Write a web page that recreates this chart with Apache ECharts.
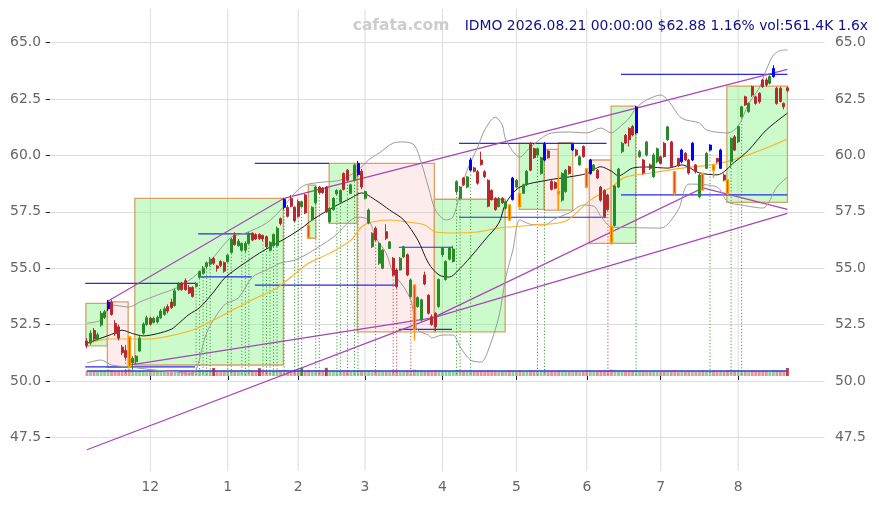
<!DOCTYPE html>
<html><head><meta charset="utf-8">
<script src="https://cdn.jsdelivr.net/npm/echarts@6/dist/echarts.min.js"></script>
<style>html,body{margin:0;padding:0;background:#fff}#c{width:879px;height:505px}</style>
</head><body><div id="c"></div>
<script>
const titleText = 'IDMO 2026.08.21 00:00:00 $62.88 1.16% vol:561.4K 1.6x';
const watermark = 'cafata.com';
const startDate = '2025-11-04', endDate = '2026-08-21';
const holidays = ['2025-11-27','2025-12-25','2026-01-01','2026-01-19','2026-02-16','2026-04-03','2026-05-25','2026-06-19','2026-07-03'];
const yTicks = [47.5, 50, 52.5, 55, 57.5, 60, 62.5, 65];

// [open, close, low, high]
const candles = [
[51.77,51.57,51.45,51.9],[51.68,52.12,51.6,52.25],[52.24,51.86,51.75,52.35],[51.86,52.05,51.8,52.15],[52.48,53.0,52.4,53.1],
[52.82,53.07,52.75,53.15],[53.2,53.5,53.1,53.6],[53.5,52.95,52.9,53.6],[52.55,52.1,52.0,52.7],[52.4,51.9,51.8,52.5],
[51.5,51.25,51.15,51.6],[51.35,51.05,50.95,51.6],[51.95,50.65,50.55,52.0],[50.8,51.0,50.5,51.1],[50.85,51.1,50.75,51.15],
[51.33,51.9,51.3,52.0],[52.12,52.53,52.05,52.6],[52.5,52.8,52.45,52.9],[52.78,52.52,52.45,52.85],[52.6,52.78,52.55,52.85],
[52.62,52.82,52.55,52.9],[52.8,53.1,52.75,53.2],[52.95,53.2,52.9,53.3],[53.3,53.1,53.0,53.4],[53.5,53.25,53.2,53.65],
[53.35,54.0,53.3,54.1],[54.05,54.3,54.0,54.4],[54.3,54.05,54.0,54.4],[54.45,54.05,54.0,54.55],[54.15,53.9,53.85,54.25],
[54.15,53.75,53.7,54.2],[54.2,54.33,54.15,54.4],[54.62,54.85,54.55,54.9],[54.78,55.0,54.75,55.1],[55.07,55.24,55.0,55.3],
[55.18,55.4,55.1,55.5],[55.44,55.22,55.15,55.5],[55.1,55.0,54.85,55.15],[55.3,55.12,55.05,55.35],[55.25,54.87,54.8,55.3],
[55.3,55.58,55.25,55.65],[55.7,56.28,55.65,56.35],[56.45,56.05,56.0,56.6],[56.0,56.2,55.95,56.3],[55.8,56.1,55.75,56.15],
[55.8,56.1,55.7,56.2],[56.1,56.55,56.05,56.6],[56.55,56.25,56.2,56.6],[56.5,56.3,56.25,56.55],[56.5,56.32,56.25,56.55],
[56.45,56.3,56.2,56.5],[56.4,55.95,55.9,56.45],[55.8,56.15,55.75,56.2],[56.0,56.5,55.95,56.55],[56.0,56.77,55.95,56.85],
[57.2,56.98,56.9,57.25],[57.7,58.05,57.6,58.1],[57.7,57.3,57.25,57.8],[58.1,57.75,57.7,58.25],[57.7,57.1,57.05,57.75],
[57.95,57.3,57.25,58.05],[57.73,57.95,57.7,58.0],[58.25,57.45,57.4,58.3],[56.9,56.35,56.3,56.95],[57.15,57.7,57.1,57.75],
[57.9,58.6,57.85,58.65],[58.6,58.35,58.3,58.65],[58.55,58.35,58.3,58.6],[58.6,57.5,57.45,58.65],[57.06,57.65,57.0,57.7],
[57.6,58.1,57.55,58.15],[58.3,58.45,58.25,58.5],[57.95,58.45,57.9,58.5],[59.2,58.5,58.45,59.25],[59.35,58.9,58.85,59.4],
[58.32,58.7,58.3,58.75],[58.9,59.58,58.85,59.65],[59.15,59.65,59.1,59.75],[59.3,58.6,58.5,59.4],[58.1,58.4,58.05,58.45],
[57.0,57.58,56.95,57.65],[55.95,56.55,55.9,56.6],[56.77,56.25,56.2,56.85],[55.22,56.1,55.15,56.15],[55.0,55.8,54.95,55.85],
[56.62,56.33,56.25,56.95],[55.88,56.17,55.85,56.2],[55.44,54.7,54.65,55.5],[54.92,54.18,54.1,55.0],[54.92,55.44,54.9,55.5],
[55.5,55.95,55.45,56.0],[55.6,54.7,54.65,55.65],[53.74,54.48,53.7,54.55],[54.25,52.3,51.8,54.3],[53.3,53.7,53.25,53.75],
[52.7,53.6,52.65,53.65],[54.7,54.3,54.25,54.85],[53.8,53.0,52.95,53.85],[52.85,52.5,52.45,52.95],[53.0,52.4,52.2,53.05],
[53.3,54.5,53.25,54.55],[55.6,55.9,55.5,55.95],[54.5,55.3,54.45,55.35],[55.4,55.9,55.35,55.95],[55.3,55.85,55.25,56.0],
[58.4,58.84,58.3,58.9],[58.1,58.6,58.05,58.65],[59.0,58.7,58.65,59.05],[58.6,59.05,58.55,59.1],[59.35,59.8,59.3,59.9],
[59.45,59.3,59.25,59.5],[59.28,58.77,58.7,59.35],[59.8,59.6,59.55,60.17],[59.28,59.06,59.0,59.35],[58.9,57.75,57.7,58.95],
[58.45,58.05,58.0,58.5],[58.1,57.6,57.55,58.15],[57.73,58.1,57.7,58.15],[58.1,57.9,57.85,58.15],[57.66,57.95,57.6,58.0],
[57.8,57.15,57.1,57.85],[58.05,59.0,58.0,59.05],[58.6,58.9,58.55,58.95],[58.3,57.75,57.7,58.35],[58.32,58.7,58.3,58.75],
[58.7,59.3,58.65,59.35],[60.5,59.35,59.3,60.6],[60.3,59.9,59.85,60.35],[60.02,60.3,59.95,60.35],[59.2,59.9,59.15,59.95],
[59.8,60.5,59.75,60.6],[60.2,59.9,59.85,60.25],[58.85,58.5,58.45,58.9],[58.8,58.55,58.5,58.85],[58.4,58.3,57.6,59.1],
[58.02,59.2,57.95,59.25],[58.4,59.35,58.35,59.4],[59.5,59.2,59.15,59.55],[60.25,60.5,60.2,60.55],[60.24,60.02,59.95,60.3],
[59.58,59.94,59.55,60.0],[60.4,59.95,59.9,60.45],[59.4,58.6,58.55,59.45],[59.2,59.8,59.15,59.85],[59.35,59.58,59.3,59.62],
[59.35,59.0,58.95,59.4],[58.6,58.02,57.95,58.65],[58.45,57.3,57.25,58.5],[58.25,57.6,57.55,58.3],[56.85,56.15,56.05,56.9],
[56.9,58.65,56.85,58.7],[58.6,59.4,58.55,59.45],[60.17,60.54,60.1,60.6],[60.9,60.55,60.5,60.95],[61.2,60.7,60.4,61.25],
[61.28,60.91,60.85,61.35],[61.0,62.15,60.95,62.2],[59.95,60.17,59.9,60.25],[59.8,59.22,59.15,59.85],[60.02,60.6,59.95,60.65],
[59.58,59.43,59.35,59.65],[59.06,60.02,59.0,60.1],[59.73,60.3,59.65,60.35],[59.94,59.65,59.6,60.0],[60.54,59.95,59.9,60.6],
[60.7,61.27,60.65,61.3],[60.6,59.5,59.45,60.65],[59.28,58.32,58.25,59.3],[59.87,59.58,59.5,59.9],[59.72,60.24,59.65,60.3],
[60.1,59.8,59.75,60.15],[59.8,59.22,59.15,59.85],[59.8,60.54,59.75,60.6],[59.58,59.28,59.2,59.62],[58.17,59.13,58.1,59.2],
[59.2,58.47,58.45,59.25],[59.43,60.09,59.4,60.15],[60.24,60.46,60.2,60.5],[59.58,59.35,59.0,59.6],[59.87,59.72,59.65,59.9],
[59.43,60.24,59.4,60.3],[59.13,58.91,58.85,59.2],[58.91,58.32,58.25,58.95],[59.72,60.76,59.45,60.8],[60.83,60.24,60.2,60.9],
[60.61,61.28,60.55,61.32],[61.72,62.16,61.68,62.2],[62.6,62.24,62.2,62.65],[61.94,62.31,61.9,62.35],[63.05,62.68,62.6,63.1],
[62.6,62.31,62.25,62.65],[62.76,62.38,62.3,62.8],[63.35,63.05,63.0,63.4],[63.35,63.13,63.05,63.45],[63.2,63.5,63.15,63.55],
[63.5,63.86,63.45,64.0],[62.98,62.31,62.25,63.05],[62.98,62.4,62.35,63.05],[62.31,62.16,62.05,62.35],[63.0,62.88,62.8,63.05]
];
const blueIdx = [6,56,77,109,121,130,138,143,156,169,172,177,180,195];
const orangeIdx = [12,63,93,120,123,134,142,149,167,175,178,182];

const volumes = [
360,340,380,330,410,390,450,420,370,350, 360,400,480,390,340,370,350,330,360,340,
320,350,330,360,380,410,370,350,360,340, 330,350,360,340,370,380,560,350,340,360,
330,380,360,340,330,350,360,370,340,550, 360,350,330,360,380,400,420,380,370,360,
380,560,370,420,380,390,360,350,570,370, 360,340,350,390,370,350,360,410,380,370,
390,380,360,370,350,340,360,380,390,350, 360,380,370,450,380,390,360,370,380,400,
390,370,360,350,360,420,380,360,350,390, 340,350,360,340,400,380,370,350,340,360,
400,390,350,380,340,350,400,360,340,350, 380,350,360,340,390,370,360,340,380,350,
340,360,400,380,340,350,370,400,380,450, 430,370,360,350,360,370,410,350,360,340,
330,350,340,330,360,370,380,400,340,370, 330,350,360,340,370,390,360,350,380,340,
370,350,400,420,380,390,410,370,350,380, 360,350,370,360,340,420,380,370,360,561
];
const volAvg = [[0,350],[199,350]];

// [index, price]
const sma20 = [[0,51.68],[4,51.9],[7,52.07],[10,52.25],[13,52.1],[16,52.0],[20,52.1],[24,52.3],[26,52.55],[29,52.95],[32,53.25],[36,53.95],[39,54.55],[42,54.92],[46,55.36],[49,55.67],[53,56.03],[57,56.38],[61,56.78],[64,57.14],[70,57.71],[75,58.11],[78,58.34],[82,58.02],[86,57.58],[90,57.14],[94,56.25],[97,55.23],[100,54.7],[103,54.61],[105,54.83],[109,55.5],[113,56.25],[117,57.0],[119,57.89],[123,58.6],[131,58.91],[137,59.05],[142,59.2],[146,59.5],[149,59.3],[151,59.1],[155,59.44],[159,59.49],[165,59.44],[169,59.58],[174,59.23],[179,59.14],[184,59.71],[188,60.24],[193,61.13],[199,61.88]];
const sma50 = [[0,51.64],[6,51.86],[12,51.86],[17,51.86],[22,51.95],[30,52.26],[36,52.7],[43,53.28],[48,53.68],[53,54.03],[58,54.61],[63,55.23],[69,55.67],[75,56.25],[78,56.83],[81,57.05],[86,57.14],[91,57.05],[96,56.92],[99,56.61],[105,56.56],[111,56.61],[117,56.78],[120,56.83],[127,56.92],[136,57.1],[143,58.02],[149,58.6],[153,59.04],[160,59.22],[169,59.44],[179,59.62],[186,59.93],[193,60.33],[199,60.73]];
const bbUpper = [[0,52.57],[4,52.7],[7,53.37],[12,53.28],[15,53.5],[20,53.81],[26,54.17],[31,54.7],[36,55.5],[41,56.38],[45,56.56],[51,57.0],[55,57.58],[59,58.33],[62,58.69],[67,58.82],[72,58.91],[77,59.35],[80,59.8],[83,60.11],[87,60.55],[90,60.6],[93,60.46],[95,59.67],[97,58.6],[99,57.58],[102,57.14],[104,57.27],[106,58.33],[108,59.35],[111,60.37],[113,61.13],[116,61.7],[118,61.35],[119,60.69],[123,59.93],[126,60.37],[132,61.0],[137,61.04],[142,61.0],[146,61.22],[149,61.0],[151,61.22],[154,61.65],[156,62.1],[159,62.46],[163,62.68],[165,62.46],[169,61.65],[174,61.44],[176,61.13],[182,61.0],[185,61.3],[188,62.3],[191,63.0],[193,63.8],[195,64.45],[197,64.65],[199,64.68]];
const bbLower = [[0,50.8],[4,50.93],[7,50.71],[12,50.62],[22,50.44],[26,50.4],[29,50.3],[31,50.48],[34,52.13],[39,53.37],[43,53.68],[47,54.61],[51,54.92],[55,55.23],[59,55.36],[63,55.67],[70,56.38],[77,57.27],[80,57.14],[82,56.38],[85,55.67],[87,54.79],[90,54.17],[92,53.59],[93,52.84],[94,52.26],[97,52.04],[98,51.91],[101,52.04],[104,52.04],[106,51.51],[109,50.93],[112,50.84],[114,51.37],[117,52.84],[119,54.61],[121,55.81],[123,57.14],[126,56.95],[130,56.92],[133,57.2],[137,57.45],[141,57.8],[144,57.75],[146,57.3],[149,56.83],[155,56.8],[163,56.78],[168,57.6],[171,58.73],[179,58.6],[182,57.95],[186,57.8],[192,57.67],[196,58.6],[199,59.04]];

// [fromIndex, toIndex, top, bottom, kind]
const boxes = [
[-0.3,5.8,53.44,51.56,'g'],[5.8,11.7,53.51,50.6,'r'],[13.6,55.8,58.1,50.71,'g'],[62.9,65.0,58.69,56.33,'g'],
[68.8,76.8,59.65,56.99,'g'],[76.8,98.7,59.65,52.18,'r'],[98.7,118.8,58.06,52.18,'g'],[122.8,129.9,60.54,57.61,'g'],
[129.9,133.9,60.27,57.58,'r'],[133.9,138.0,60.57,57.58,'g'],[142.7,148.9,59.8,56.1,'r'],[148.9,155.9,62.19,56.1,'g'],
[181.8,199.0,63.08,57.92,'g']
];
// [fromIndex, toIndex, price]
const levels = [
[-0.5,30.7,54.33],[-0.5,30.7,50.63],[31.6,46.8,56.52],[31.6,46.8,54.62],[47.7,88.0,54.25],[47.7,68.8,59.65],
[88.6,103.7,55.93],[88.6,103.7,52.29],[105.7,147.6,60.54],[105.7,147.6,57.26],[151.7,199,58.25],[151.7,199,63.6]
];
const trendLines = [
[[6,53.55],[56,58.1],[199,63.82]],
[[12,50.7],[98.2,52.8],[199,57.43]],
[[0,46.95],[98.2,52.8],[175,58.56],[199,57.61]]
];
const sigUp = [31,32,33,34,35,40,41,44,45,46,50,51,52,53,54,56,59,60,61,65,66,71,72,74,76,77,105,106,109,128,130,156,177,183,186];
const sigDn = [11,82,87,88,92,148];
const sigBase = 50.25;

// ---------- build ----------
const PAD0 = 10, PAD1 = 10;
function tradingDays(s, e, hol) {
  const out = []; let d = new Date(s + 'T00:00:00Z'); const end = new Date(e + 'T00:00:00Z');
  while (d <= end) { const wd = d.getUTCDay(); const k = d.toISOString().slice(0, 10);
    if (wd !== 0 && wd !== 6 && hol.indexOf(k) < 0) out.push(k); d = new Date(d.getTime() + 86400000); }
  return out;
}
const dates = tradingDays(startDate, endDate, holidays);
const cats = [];
for (let k = 0; k < PAD0; k++) cats.push('a' + k);
dates.forEach(d => cats.push(d));
for (let k = 0; k < PAD1; k++) cats.push('b' + k);
const monthIdx = [];
for (let i = 1; i < dates.length; i++) if (dates[i].slice(5, 7) !== dates[i - 1].slice(5, 7)) monthIdx.push(i + PAD0);
const monthSet = new Set(monthIdx);

const GREEN = '#2a8a2a', RED = '#b9282c', BLUE = '#0000ff', ORANGE = '#ff9a00';
const blueSet = new Set(blueIdx), orangeSet = new Set(orangeIdx);
const candleData = cats.map(() => '-');
candles.forEach((c, i) => {
  const item = { value: c };
  if (blueSet.has(i)) item.itemStyle = { color: BLUE, color0: BLUE, borderColor: BLUE, borderColor0: BLUE };
  else if (orangeSet.has(i)) item.itemStyle = { color: RED, color0: RED, borderColor: ORANGE, borderColor0: ORANGE, borderWidth: 1.4 };
  candleData[i + PAD0] = item;
});
const volData = cats.map(() => '-');
volumes.forEach((v, i) => {
  const up = candles[i][1] >= candles[i][0];
  const strong = v >= 540;
  volData[i + PAD0] = { value: v, itemStyle: { color: up ? (strong ? 'rgba(40,140,40,0.9)' : 'rgba(70,160,70,0.55)') : (strong ? 'rgba(190,40,50,0.9)' : 'rgba(205,60,80,0.55)') } };
});
function sparse(pts) { const a = cats.map(() => '-'); pts.forEach(p => { a[p[0] + PAD0] = p[1]; }); return a; }
function helper(api) {
  const c0 = api.coord([PAD0, 50]); const bw = api.size([1, 0])[0];
  return { x: i => c0[0] + i * bw, y: p => api.coord([PAD0, p])[1] };
}
function lineSeries(pts, color, w, yIdx) {
  return { type: 'line', data: sparse(pts), yAxisIndex: yIdx || 0, connectNulls: true, smooth: 0.3, showSymbol: false, silent: true,
    lineStyle: { color: color, width: w }, z: 3 };
}
const font = 'DejaVu Sans';
const labelStyle = { color: '#666', fontSize: 13.9, fontFamily: font };

const option = {
  animation: false,
  backgroundColor: '#ffffff',
  grid: { left: 50, right: 54.6, top: 8.9, bottom: 33.8, containLabel: false, outerBoundsMode: 'none' },
  xAxis: {
    type: 'category', data: cats, boundaryGap: true,
    axisLine: { show: false },
    axisTick: { show: true, alignWithLabel: true, interval: i => monthSet.has(i), length: 4, lineStyle: { color: '#222' } },
    axisLabel: Object.assign({ interval: i => monthSet.has(i), margin: 9,
      formatter: v => (v[0] === 'a' || v[0] === 'b') ? '' : String(parseInt(v.slice(5, 7), 10)) }, labelStyle),
    splitLine: { show: false }
  },
  yAxis: [
    { type: 'value', min: 46, max: 66.5, position: 'left', axisLine: { show: false },
      axisTick: { show: true, customValues: yTicks, length: 4.3, lineStyle: { color: '#222' } },
      axisLabel: Object.assign({ customValues: yTicks, margin: 9, formatter: v => v.toFixed(1) }, labelStyle),
      splitLine: { show: true, lineStyle: { color: '#dcdcdc', width: 1 } } },
    { type: 'value', min: 46, max: 66.5, position: 'right', axisLine: { show: false },
      axisTick: { show: false, customValues: yTicks },
      axisLabel: Object.assign({ customValues: yTicks, margin: 10.5, formatter: v => v.toFixed(1) }, labelStyle),
      splitLine: { show: false } },
    { type: 'value', min: -6664, max: 25697, show: false, splitLine: { show: false } }
  ],
  graphic: [
    { type: 'text', style: { x: 868, y: 26, text: titleText, fill: '#10108a', font: '13.9px "' + font + '"', textAlign: 'right', textVerticalAlign: 'middle' }, z: 10 },
    { type: 'text', style: { x: 401, y: 25.5, text: watermark, fill: '#cdcdcd', font: 'bold 15.5px "' + font + '"', textAlign: 'center', textVerticalAlign: 'middle' }, z: 10 }
  ],
  series: [
    { type: 'custom', silent: true, z: 0, data: monthIdx.map(k => [k, 50]), encode: { x: 0, y: 1 },
      renderItem: (params, api) => { const x = api.coord([api.value(0), 50])[0]; const cs = params.coordSys;
        return { type: 'line', shape: { x1: x, y1: cs.y, x2: x, y2: cs.y + cs.height }, style: { stroke: '#dcdcdc', lineWidth: 1 } }; } },
    { type: 'custom', silent: true, z: 1, data: boxes.map((b, k) => [PAD0, b[2], k]), encode: { x: 0, y: 1 },
      renderItem: (params, api) => { const b = boxes[api.value(2)]; const h = helper(api);
        const x1 = h.x(b[0]), x2 = h.x(b[1]), y1 = h.y(b[2]), y2 = h.y(b[3]);
        return { type: 'rect', shape: { x: x1, y: y1, width: x2 - x1, height: y2 - y1 },
          style: { fill: b[4] === 'g' ? 'rgba(140,245,140,0.45)' : 'rgba(245,170,170,0.22)', stroke: '#d9a066', lineWidth: 1.3 } }; } },
    { type: 'bar', data: volData, yAxisIndex: 2, barWidth: 2.9, silent: true, z: 2 },
    { type: 'line', data: sparse(volAvg), yAxisIndex: 2, connectNulls: true, showSymbol: false, silent: true, lineStyle: { color: '#3040d0', width: 1.4 }, z: 3 },
    { type: 'custom', silent: true, z: 2, data: sigUp.map(i => [i, 1]).concat(sigDn.map(i => [i, 0])).map(s => [PAD0, 50, s[0], s[1]]), encode: { x: 0, y: 1 },
      renderItem: (params, api) => { const i = api.value(2); const h = helper(api); const x = h.x(i);
        return { type: 'line', shape: { x1: x, y1: h.y(candles[i][2]), x2: x, y2: h.y(sigBase) },
          style: { stroke: api.value(3) ? '#3c9c3c' : '#d24848', lineWidth: 1, lineDash: [1.2, 2] } }; } },
    lineSeries(bbUpper, '#9b9b9b', 1),
    lineSeries(bbLower, '#9b9b9b', 1),
    lineSeries(sma50, '#ffb020', 1.1),
    lineSeries(sma20, '#1a1a1a', 1),
    { type: 'custom', silent: true, z: 3, data: levels.map((l, k) => [PAD0, l[2], k]), encode: { x: 0, y: 1 },
      renderItem: (params, api) => { const l = levels[api.value(2)]; const h = helper(api);
        return { type: 'line', shape: { x1: h.x(l[0]), y1: h.y(l[2]), x2: h.x(l[1]), y2: h.y(l[2]) }, style: { stroke: '#2a2ae6', lineWidth: 1.2 } }; } },
    { type: 'custom', silent: true, z: 3, data: trendLines.map((t, k) => [PAD0, t[0][1], k]), encode: { x: 0, y: 1 },
      renderItem: (params, api) => { const t = trendLines[api.value(2)]; const h = helper(api);
        return { type: 'polyline', shape: { points: t.map(p => [h.x(p[0]), h.y(p[1])]) }, style: { stroke: '#a845b8', lineWidth: 1.2, fill: null } }; } },
    { type: 'candlestick', data: candleData, barWidth: 2.5, z: 5,
      itemStyle: { color: GREEN, color0: RED, borderColor: GREEN, borderColor0: RED, borderWidth: 1 } }
  ]
};
const chart = echarts.init(document.getElementById('c'), null, { renderer: 'canvas' });
chart.setOption(option);
</script>
</body></html>
